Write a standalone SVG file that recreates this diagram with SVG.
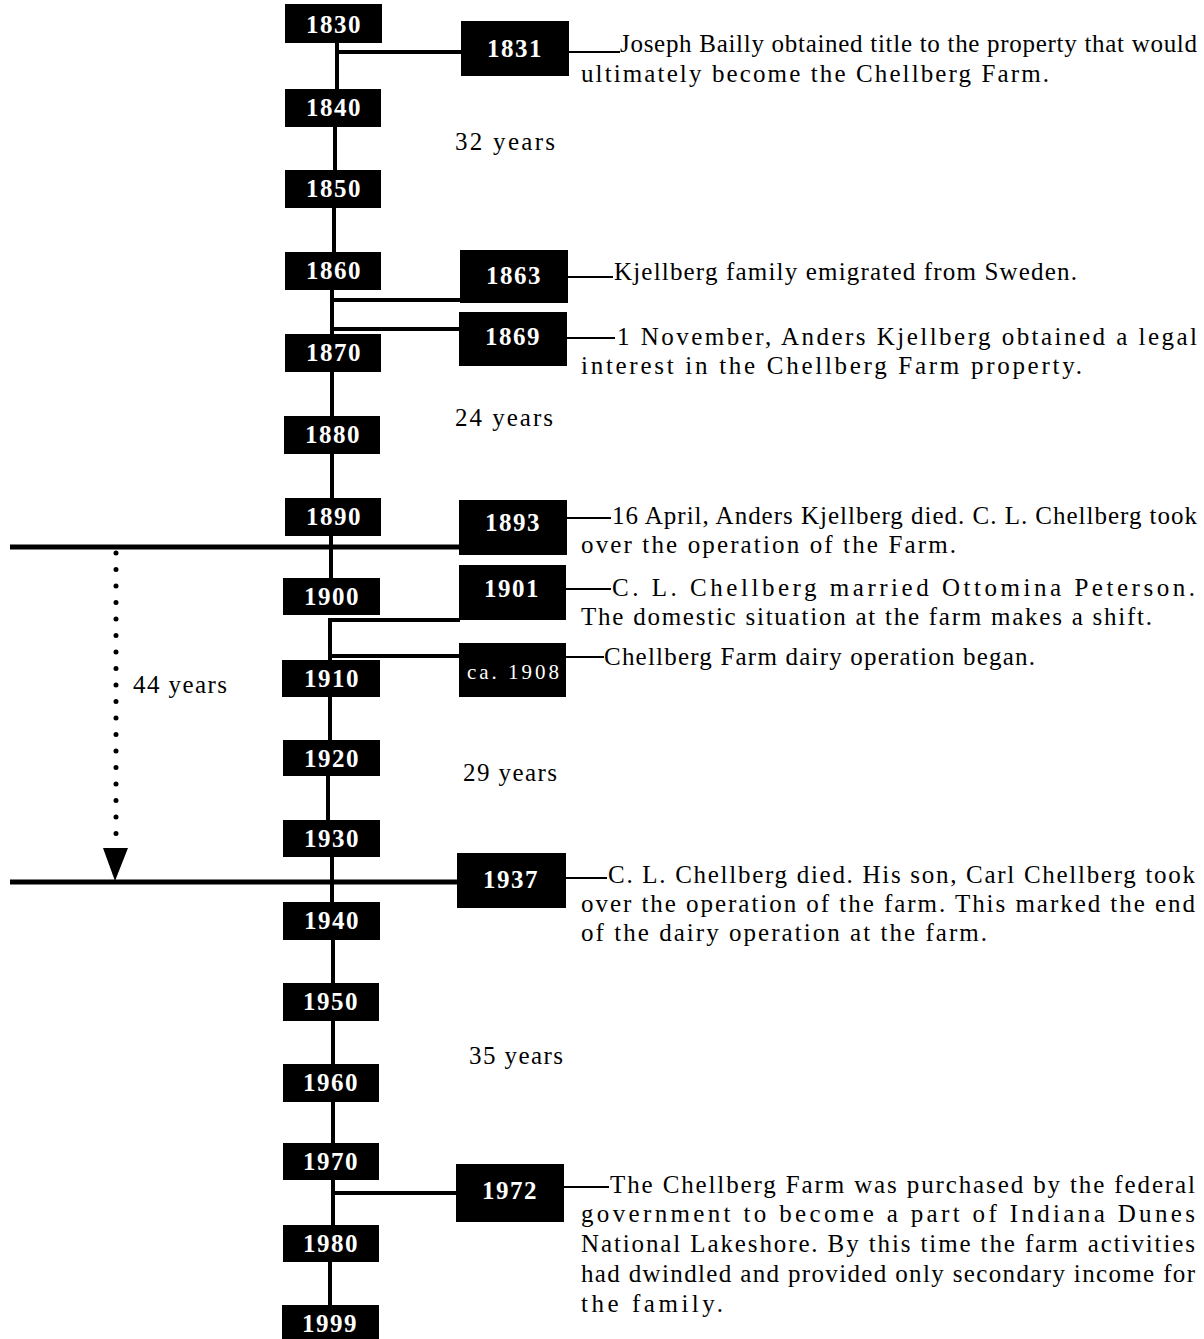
<svg xmlns="http://www.w3.org/2000/svg" width="1204" height="1339" viewBox="0 0 1204 1339">
<style>
.box{fill:#000}
.yr{font-family:"Liberation Serif","Times New Roman",serif;font-weight:bold;font-size:25px;fill:#fff;text-anchor:middle;letter-spacing:1.5px}
.ca{font-family:"Liberation Serif","Times New Roman",serif;font-size:21px;fill:#fff}
.t{font-family:"Liberation Serif","Times New Roman",serif;font-size:25px;fill:#000}
.ln{stroke:#000;stroke-width:4;fill:none}
.lw{stroke:#000;stroke-width:5;fill:none}
.thin{stroke:#000;stroke-width:2;fill:none}
</style>
<rect width="1204" height="1339" fill="#fff"/>
<g id="connectors">
  <line class="ln" x1="337" y1="40" x2="337" y2="92"/>
  <line class="ln" x1="335" y1="124" x2="335" y2="173"/>
  <line class="ln" x1="334" y1="205" x2="334" y2="255"/>
  <line class="ln" x1="332" y1="287" x2="332" y2="337"/>
  <line class="ln" x1="332" y1="369" x2="332" y2="419"/>
  <line class="ln" x1="332" y1="451" x2="332" y2="501"/>
  <line class="ln" x1="331" y1="533" x2="331" y2="581"/>
  <line class="ln" x1="330" y1="618" x2="330" y2="663"/>
  <line class="ln" x1="330" y1="695" x2="330" y2="743"/>
  <line class="ln" x1="328" y1="775" x2="328" y2="823"/>
  <line class="ln" x1="332" y1="855" x2="332" y2="905"/>
  <line class="ln" x1="333" y1="937" x2="333" y2="986"/>
  <line class="ln" x1="333" y1="1018" x2="333" y2="1067"/>
  <line class="ln" x1="333" y1="1099" x2="333" y2="1146"/>
  <line class="ln" x1="333" y1="1178" x2="333" y2="1228"/>
  <line class="ln" x1="330" y1="1260" x2="330" y2="1307"/>
  <line class="ln" x1="337" y1="52" x2="462" y2="52"/>
  <line class="ln" x1="332" y1="300" x2="461" y2="300"/>
  <line class="ln" x1="332" y1="329" x2="460" y2="329"/>
  <line class="lw" x1="10" y1="547" x2="460" y2="547"/>
  <line class="ln" x1="328" y1="620" x2="460" y2="620"/>
  <line class="ln" x1="328" y1="656" x2="460" y2="656"/>
  <line class="lw" x1="10" y1="882" x2="458" y2="882"/>
  <line class="ln" x1="333" y1="1193" x2="457" y2="1193"/>
  <line class="thin" x1="568" y1="52" x2="620" y2="52"/>
  <line class="thin" x1="567" y1="277" x2="613" y2="277"/>
  <line class="thin" x1="566" y1="338" x2="615" y2="338"/>
  <line class="thin" x1="566" y1="518" x2="611" y2="518"/>
  <line class="thin" x1="565" y1="589" x2="611" y2="589"/>
  <line class="thin" x1="565" y1="657" x2="604" y2="657"/>
  <line class="thin" x1="565" y1="878" x2="607" y2="878"/>
  <line class="thin" x1="563" y1="1187" x2="609" y2="1187"/>
  <line x1="116" y1="553" x2="116" y2="835" stroke="#000" stroke-width="5" stroke-linecap="round" stroke-dasharray="0 16.5"/>
  <polygon points="103,848 128,848 115,881" fill="#000"/>
</g>
<g id="y1830"><rect class="box" x="285" y="4" width="97" height="39"/><text class="yr" x="334" y="33">1830</text></g>
<g id="y1840"><rect class="box" x="285" y="89" width="96" height="38"/><text class="yr" x="334" y="116">1840</text></g>
<g id="y1850"><rect class="box" x="285" y="170" width="96" height="38"/><text class="yr" x="334" y="197">1850</text></g>
<g id="y1860"><rect class="box" x="285" y="252" width="96" height="38"/><text class="yr" x="334" y="279">1860</text></g>
<g id="y1870"><rect class="box" x="285" y="334" width="96" height="38"/><text class="yr" x="334" y="361">1870</text></g>
<g id="y1880"><rect class="box" x="284" y="416" width="96" height="38"/><text class="yr" x="333" y="443">1880</text></g>
<g id="y1890"><rect class="box" x="285" y="498" width="96" height="38"/><text class="yr" x="334" y="525">1890</text></g>
<g id="y1900"><rect class="box" x="283" y="578" width="97" height="37"/><text class="yr" x="332" y="605">1900</text></g>
<g id="y1910"><rect class="box" x="282" y="660" width="98" height="37"/><text class="yr" x="332" y="687">1910</text></g>
<g id="y1920"><rect class="box" x="283" y="740" width="97" height="36"/><text class="yr" x="332" y="767">1920</text></g>
<g id="y1930"><rect class="box" x="283" y="820" width="97" height="37"/><text class="yr" x="332" y="847">1930</text></g>
<g id="y1940"><rect class="box" x="283" y="902" width="97" height="38"/><text class="yr" x="332" y="929">1940</text></g>
<g id="y1950"><rect class="box" x="283" y="983" width="96" height="38"/><text class="yr" x="331" y="1010">1950</text></g>
<g id="y1960"><rect class="box" x="283" y="1064" width="96" height="38"/><text class="yr" x="331" y="1091">1960</text></g>
<g id="y1970"><rect class="box" x="283" y="1143" width="96" height="37"/><text class="yr" x="331" y="1170">1970</text></g>
<g id="y1980"><rect class="box" x="283" y="1225" width="96" height="37"/><text class="yr" x="331" y="1252">1980</text></g>
<g id="y1999"><rect class="box" x="282" y="1305" width="97" height="40"/><text class="yr" x="330" y="1332">1999</text></g>

<g id="e1831"><rect class="box" x="461" y="21" width="108" height="55"/><text class="yr" x="515" y="57">1831</text></g>
<g id="e1863"><rect class="box" x="460" y="250" width="108" height="53"/><text class="yr" x="514" y="284">1863</text></g>
<g id="e1869"><rect class="box" x="459" y="312" width="108" height="54"/><text class="yr" x="513" y="345">1869</text></g>
<g id="e1893"><rect class="box" x="459" y="500" width="108" height="55"/><text class="yr" x="513" y="531">1893</text></g>
<g id="e1901"><rect class="box" x="459" y="565" width="107" height="55"/><text class="yr" x="512" y="597">1901</text></g>
<g id="e1908"><rect class="box" x="459" y="643" width="107" height="54"/><text class="ca" x="467" y="679" textLength="92">ca. 1908</text></g>
<g id="e1937"><rect class="box" x="457" y="853" width="109" height="55"/><text class="yr" x="511" y="888">1937</text></g>
<g id="e1972"><rect class="box" x="456" y="1164" width="108" height="58"/><text class="yr" x="510" y="1199">1972</text></g>

<g id="spans">
  <text class="t" x="455" y="150" textLength="100">32 years</text>
  <text class="t" x="455" y="426" textLength="98">24 years</text>
  <text class="t" x="463" y="781" textLength="94">29 years</text>
  <text class="t" x="469" y="1064" textLength="94">35 years</text>
  <text class="t" x="133" y="693" textLength="94">44 years</text>
</g>
<g id="notes">
  <text class="t" x="620" y="52" textLength="577">Joseph Bailly obtained title to the property that would</text>
  <text class="t" x="581" y="82" textLength="468">ultimately become the Chellberg Farm.</text>
  <text class="t" x="614" y="280" textLength="463">Kjellberg family emigrated from Sweden.</text>
  <text class="t" x="617" y="345" textLength="580">1 November, Anders Kjellberg obtained a legal</text>
  <text class="t" x="581" y="374" textLength="501">interest in the Chellberg Farm property.</text>
  <text class="t" x="612" y="524" textLength="585">16 April, Anders Kjellberg died.  C. L. Chellberg took</text>
  <text class="t" x="581" y="553" textLength="375">over the operation of the Farm.</text>
  <text class="t" x="612" y="596" textLength="583">C. L. Chellberg married Ottomina Peterson.</text>
  <text class="t" x="581" y="625" textLength="571">The domestic situation at the farm makes a shift.</text>
  <text class="t" x="604" y="665" textLength="431">Chellberg Farm dairy operation began.</text>
  <text class="t" x="608" y="883" textLength="587">C. L. Chellberg died.  His son, Carl Chellberg took</text>
  <text class="t" x="581" y="912" textLength="614">over the operation of the farm.  This marked the end</text>
  <text class="t" x="581" y="941" textLength="406">of the dairy operation at the farm.</text>
  <text class="t" x="610" y="1193" textLength="585">The Chellberg Farm was purchased by the federal</text>
  <text class="t" x="581" y="1222" textLength="614">government to become a part of Indiana Dunes</text>
  <text class="t" x="581" y="1252" textLength="614">National Lakeshore.  By this time the farm activities</text>
  <text class="t" x="581" y="1282" textLength="614">had dwindled and provided only secondary income for</text>
  <text class="t" x="581" y="1312" textLength="142">the family.</text>
</g>
</svg>
